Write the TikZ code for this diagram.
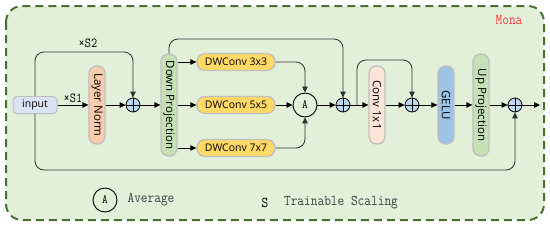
\documentclass[tikz,border=0pt]{standalone}
\usepackage{fontspec}
\usepackage{graphicx}
\setmainfont{Open Sans}
\usetikzlibrary{arrows.meta,calc}
\newcommand{\mylbl}[1]{\scalebox{1}[1.15]{\ttfamily #1}}
\definecolor{bggreen}{HTML}{E2EFD9}
\definecolor{dashgreen}{HTML}{4A7030}
\definecolor{inputfill}{HTML}{DAE3F3}
\definecolor{lnfill}{HTML}{F8CBAD}
\definecolor{projfill}{HTML}{C5E0B4}
\definecolor{dwfill}{HTML}{FFD966}
\definecolor{convfill}{HTML}{FBE5D6}
\definecolor{gelufill}{HTML}{9DC3E6}
\definecolor{plusfill}{HTML}{BDD7EE}
\definecolor{boxline}{HTML}{BFBFBF}
\definecolor{monared}{HTML}{FF3B3B}
\definecolor{skipline}{HTML}{303030}
\tikzset{
  arr/.style={draw=black, line width=0.8pt, -{Triangle[length=6pt,width=5.5pt]}},
  skipl/.style={draw=skipline, line width=0.8pt, rounded corners=9pt, -{Triangle[length=6pt,width=5.5pt]}},
  vbar/.style={draw=boxline, line width=1.3pt, rounded corners=7.5pt, minimum width=16pt, inner sep=0pt, font=\fontsize{11.5}{12}\selectfont},
  dwbox/.style={draw=boxline, line width=1.3pt, fill=dwfill, rounded corners=8pt, minimum width=78pt, minimum height=17pt, inner sep=0pt, font=\fontsize{10.5}{11}\selectfont},
  plusn/.style={circle, draw=black, line width=0.8pt, fill=plusfill, minimum size=14pt, inner sep=0pt,
    path picture={\draw[line width=0.8pt] (path picture bounding box.north) -- (path picture bounding box.south) (path picture bounding box.west) -- (path picture bounding box.east);}},
  avgn/.style={circle, draw=black, line width=0.9pt, minimum size=24pt, inner sep=0pt, font=\fontsize{11}{12}\selectfont},
  lgd/.style={font=\fontsize{13}{14}\selectfont, text=black!75},
}
\begin{document}
\begin{tikzpicture}[x=1pt,y=-1pt]
\useasboundingbox (0,0) rectangle (550,226);
% outer frame
\draw[draw=dashgreen, fill=bggreen, line width=2pt, dash pattern=on 8pt off 5pt, rounded corners=16pt] (6,6) rectangle (544,220);
\node[text=monared, font=\fontsize{13}{14}\selectfont] (mona) at (509,20) {\mylbl{Mona}};

% main row
\node[draw=boxline, line width=1pt, fill=inputfill, rounded corners=4pt, minimum width=44pt, minimum height=17pt, inner sep=0pt, font=\fontsize{10.5}{11}\selectfont] (input) at (35,105) {input};
\node[vbar, fill=lnfill, minimum height=78pt] (ln) at (97,105) {\rotatebox{-90}{Layer Norm}};
\node[plusn] (plus1) at (133,105) {};
\node[vbar, fill=projfill, minimum height=102pt] (dp) at (169,105) {\rotatebox{-90}{Down Projection}};
\node[dwbox] (dw3) at (236,62) {DWConv 3x3};
\node[dwbox] (dw5) at (236,105) {DWConv 5x5};
\node[dwbox] (dw7) at (236,148) {DWConv 7x7};
\node[avgn] (avg) at (305,105) {\mylbl{A}};
\node[plusn] (plus2) at (343,105) {};
\node[vbar, fill=convfill, minimum height=78pt] (conv) at (377,105) {\rotatebox{-90}{Conv 1x1}};
\node[plusn] (plus3) at (412,105) {};
\node[vbar, fill=gelufill, minimum height=78pt] (gelu) at (446,105) {\rotatebox{-90}{GELU}};
\node[vbar, fill=projfill, minimum height=102pt] (up) at (481,105) {\rotatebox{-90}{Up Projection}};
\node[plusn] (plus4) at (515,105) {};
\coordinate (out) at (540,105);
\coordinate (br) at (357,105);

% main connectors
\draw[arr] (input) -- node[above, font=\fontsize{12}{13}\selectfont, yshift=-1.5pt] {\mylbl{×S1}} (ln);
\draw[arr] (ln) -- (plus1);
\draw[arr] (plus1) -- (dp);
\draw[arr] (dw3 -| dp.east) -- (dw3);
\draw[arr] (dp) -- (dw5);
\draw[arr] (dw7 -| dp.east) -- (dw7);
\draw[arr] (dw5) -- (avg);
\draw[skipl] (dw3.east) -| (avg.north);
\draw[skipl] (dw7.east) -| (avg.south);
\draw[arr] (avg) -- (plus2);
\draw[arr] (plus2) -- (conv);
\draw[arr] (conv) -- (plus3);
\draw[arr] (plus3) -- (gelu);
\draw[arr] (gelu) -- (up);
\draw[arr] (up) -- (plus4);
\draw[arr] (plus4) -- (out);

% skip connections
\draw[skipl] (input.north) -- (input.north |- 0,52) -| node[pos=0.27, above, font=\fontsize{12}{13}\selectfont, yshift=1pt] {\mylbl{×S2}} (plus1.north);
\draw[skipl] (dp.north) -- (dp.north |- 0,39) -| (plus2.north);
\draw[skipl] (br) -- (br |- 0,60) -| (plus3.north);
\draw[skipl] (input.south) -- (input.south |- 0,170) -| (plus4.south);

% legend
\node[avgn] (legA) at (105,200) {\mylbl{A}};
\node[lgd] (legAt) at (151,200) {\mylbl{Average}};
\node[lgd, text=black] (legS) at (265,203) {\mylbl{S}};
\node[lgd] (legSt) at (341,203) {\mylbl{Trainable Scaling}};
\end{tikzpicture}
\end{document}
